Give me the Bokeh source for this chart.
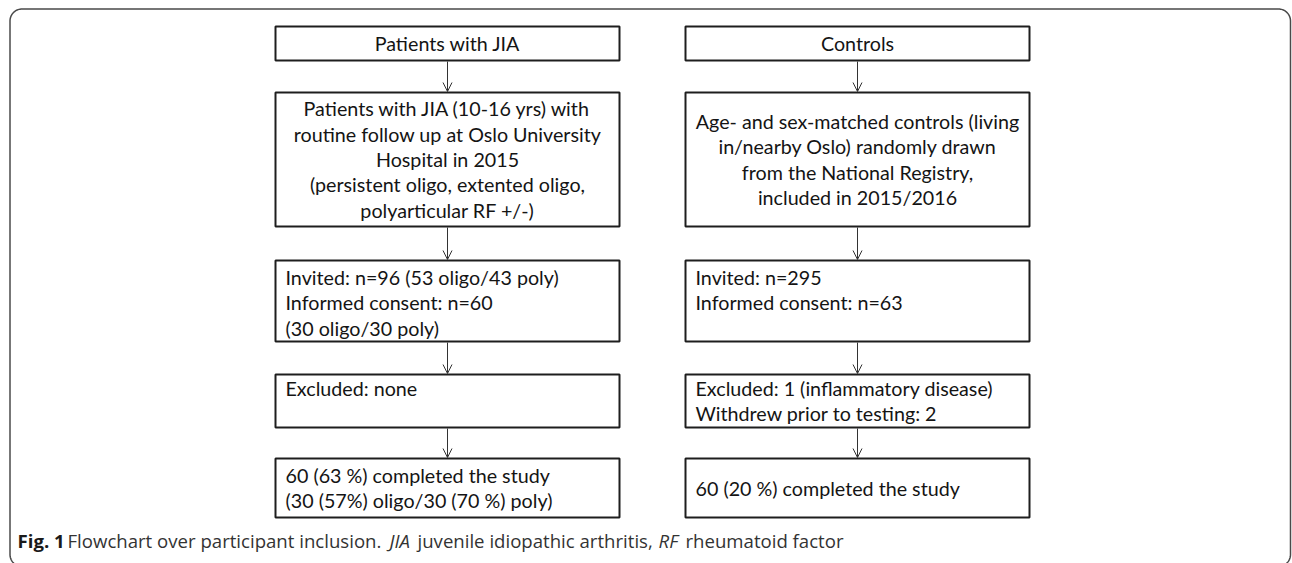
import numpy as np
from bokeh.plotting import figure
from bokeh.models import Range1d, Arrow, OpenHead
from bokeh.core.properties import value
from bokeh.embed import file_html
from bokeh.resources import INLINE

# ---------------- data (texts) ----------------
col_headers = ["Patients with JIA", "Controls"]
left_desc = ["Patients with JIA (10-16 yrs) with",
             "routine follow up at Oslo University",
             "Hospital in 2015",
             "(persistent oligo, extented oligo,",
             "polyarticular RF +/-)"]
right_desc = ["Age- and sex-matched controls (living",
              "in/nearby Oslo) randomly drawn",
              "from the National Registry,",
              "included in 2015/2016"]
left_invited = ["Invited: n=96 (53 oligo/43 poly)",
                "Informed consent: n=60",
                "(30 oligo/30 poly)"]
right_invited = ["Invited: n=295", "Informed consent: n=63"]
left_excluded = ["Excluded: none"]
right_excluded = ["Excluded: 1 (inflammatory disease)",
                  "Withdrew prior to testing: 2"]
left_completed = ["60 (63 %) completed the study",
                  "(30 (57%) oligo/30 (70 %) poly)"]
right_completed = ["60 (20 %) completed the study"]
caption_parts = ["Fig. 1", "Flowchart over participant inclusion.", "JIA",
                 "juvenile idiopathic arthritis,", "RF", "rheumatoid factor"]
caption_styles = ["bold", "normal", "italic", "normal", "italic", "normal"]

# ---------------- layout ----------------
W, H = 1292, 563
p = figure(width=W, height=H, output_backend="svg", toolbar_location=None,
           x_range=Range1d(0, W), y_range=Range1d(H, 0),
           min_border=0, outline_line_color=None)
p.axis.visible = False
p.grid.visible = False
p.background_fill_color = "white"
p.border_fill_color = "white"

# outer rounded frame
fl, fr, ft, fb, rad = 9.5, 1290.0, 8.5, 566.0, 12
th = np.linspace(0, np.pi / 2, 20)
fx = np.concatenate([fr - rad + rad * np.sin(th), fr - rad + rad * np.cos(th),
                     fl + rad - rad * np.sin(th), fl + rad - rad * np.cos(th), [fr - rad]])
fy = np.concatenate([ft + rad - rad * np.cos(th), fb - rad + rad * np.sin(th),
                     fb - rad + rad * np.cos(th), ft + rad - rad * np.sin(th), [ft]])
p.line(fx, fy, line_color="#4a4a4a", line_width=1.5)

cols = [(275, 619), (685, 1029)]
rows = [(26, 60), (92, 226), (260, 341), (374, 427), (458, 517)]

# boxes
bl, br, bt, bb = [], [], [], []
for (l, r) in cols:
    for (t, b) in rows:
        bl.append(l); br.append(r); bt.append(t); bb.append(b)
p.quad(left=bl, right=br, top=bt, bottom=bb, fill_color="white",
       line_color="#1e1e1e", line_width=2)

# arrows
for (l, r) in cols:
    cx = (l + r) / 2
    for i in range(len(rows) - 1):
        p.add_layout(Arrow(end=OpenHead(size=9, line_color="#333333", line_width=1),
                           x_start=cx, y_start=rows[i][1] + 1,
                           x_end=cx, y_end=rows[i + 1][0] - 1,
                           line_color="#333333", line_width=1))

FONT = "Lato"
FS = "19.7px"
TC = "#141414"
LH = 25.4

def centered(lines, col, row):
    l, r = cols[col]
    t, b = rows[row]
    cy = (t + b) / 2
    n = len(lines)
    ys = [cy + (i - (n - 1) / 2) * LH for i in range(n)]
    p.text(x=[(l + r) / 2] * n, y=ys, text=lines, text_align="center",
           text_baseline="middle", text_font=value(FONT), text_font_size=FS,
           text_color=TC)

def lefttext(lines, col, row, top_pad=17, center=False):
    l, r = cols[col]
    t, b = rows[row]
    n = len(lines)
    if center:
        cy = (t + b) / 2
        ys = [cy + (i - (n - 1) / 2) * LH for i in range(n)]
    else:
        ys = [t + top_pad + i * LH for i in range(n)]
    p.text(x=[l + 10] * n, y=ys, text=lines, text_align="left",
           text_baseline="middle", text_font=value(FONT), text_font_size=FS,
           text_color=TC)

centered([col_headers[0]], 0, 0)
centered([col_headers[1]], 1, 0)
centered(left_desc, 0, 1)
centered(right_desc, 1, 1)
lefttext(left_invited, 0, 2)
lefttext(right_invited, 1, 2)
lefttext(left_excluded, 0, 3, top_pad=14)
lefttext(right_excluded, 1, 3, top_pad=14)
lefttext(left_completed, 0, 4, top_pad=17)
lefttext(right_completed, 1, 4, center=True)

# caption
cap_x = [17, 67, 389, 417, 658, 685]
cap_y = 540
for txt, st, x in zip(caption_parts, caption_styles, cap_x):
    p.text(x=[x], y=[cap_y], text=[txt], text_align="left", text_baseline="middle",
           text_font=value("Open Sans"), text_font_size="18.6px",
           text_font_style=st, text_color="#1a1a1a" if st == "bold" else "#333333")

open("out.html", "w").write(file_html(p, INLINE))
